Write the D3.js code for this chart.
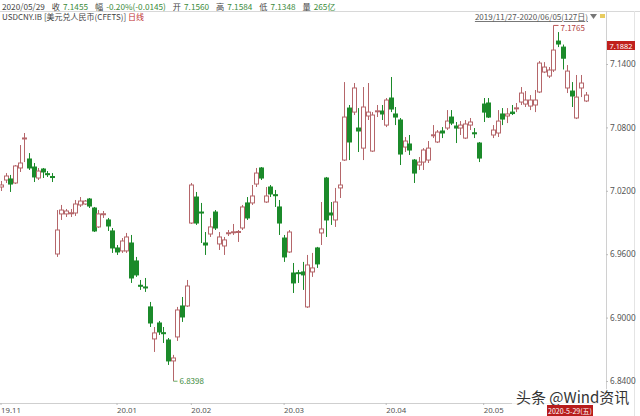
<!DOCTYPE html>
<html><head><meta charset="utf-8">
<script src="https://cdn.jsdelivr.net/npm/d3@7/dist/d3.min.js"></script>
<style>
html,body{margin:0;padding:0;background:#fff;}
svg{display:block;font-family:"Noto Sans CJK SC","Noto Sans",sans-serif;}
</style></head>
<body><svg id="c" width="640" height="416"></svg>
<script>
const dates = [
"2019-11-27","2019-11-28","2019-11-29",
"2019-12-02","2019-12-03","2019-12-04","2019-12-05","2019-12-06","2019-12-09","2019-12-10","2019-12-11","2019-12-12","2019-12-13",
"2019-12-16","2019-12-17","2019-12-18","2019-12-19","2019-12-20","2019-12-23","2019-12-24","2019-12-25","2019-12-26","2019-12-27","2019-12-30","2019-12-31",
"2020-01-02","2020-01-03","2020-01-06","2020-01-07","2020-01-08","2020-01-09","2020-01-10","2020-01-13","2020-01-14","2020-01-15","2020-01-16","2020-01-17",
"2020-01-20","2020-01-21","2020-01-22","2020-01-23",
"2020-02-03","2020-02-04","2020-02-05","2020-02-06","2020-02-07","2020-02-10","2020-02-11","2020-02-12","2020-02-13","2020-02-14",
"2020-02-17","2020-02-18","2020-02-19","2020-02-20","2020-02-21","2020-02-24","2020-02-25","2020-02-26","2020-02-27","2020-02-28",
"2020-03-02","2020-03-03","2020-03-04","2020-03-05","2020-03-06","2020-03-09","2020-03-10","2020-03-11","2020-03-12","2020-03-13",
"2020-03-16","2020-03-17","2020-03-18","2020-03-19","2020-03-20","2020-03-23","2020-03-24","2020-03-25","2020-03-26","2020-03-27","2020-03-30","2020-03-31",
"2020-04-01","2020-04-02","2020-04-03","2020-04-07","2020-04-08","2020-04-09","2020-04-10","2020-04-13","2020-04-14","2020-04-15","2020-04-16","2020-04-17",
"2020-04-20","2020-04-21","2020-04-22","2020-04-23","2020-04-24","2020-04-27","2020-04-28","2020-04-29","2020-04-30",
"2020-05-06","2020-05-07","2020-05-08","2020-05-11","2020-05-12","2020-05-13","2020-05-14","2020-05-15","2020-05-18","2020-05-19","2020-05-20","2020-05-21","2020-05-22",
"2020-05-25","2020-05-26","2020-05-27","2020-05-28","2020-05-29",
"2020-06-01","2020-06-02","2020-06-03","2020-06-04","2020-06-05"];

const openV = [7.0236,7.0302,7.0312,7.0274,7.0416,7.0695,7.0501,7.0425,7.0321,7.0406,7.0362,7.0335,
6.9602,6.9981,6.9981,6.9988,6.9990,7.0066,7.0075,7.0122,7.0037,6.9858,6.9978,6.9924,6.9820,6.9659,6.9631,6.9631,6.9706,6.9536,
6.9306,6.9290,6.9101,6.8798,6.8949,6.8857,6.8788,6.8590,6.8817,6.9110,6.9110,
6.9895,7.0141,6.9999,6.9706,6.9791,6.9999,6.9697,6.9678,6.9799,6.9808,6.9810,6.9848,7.0085,7.0085,7.0264,7.0416,7.0094,7.0236,7.0163,7.0047,
6.9753,6.9621,6.9422,6.9425,6.9432,6.9101,6.9432,6.9659,6.9801,7.0321,6.9990,6.9924,7.0227,7.0491,7.0983,7.0945,7.0794,7.0604,7.0908,7.0576,7.0952,7.0955,
7.0822,7.1078,7.0927,7.0870,7.0614,7.0643,7.0491,7.0444,7.0472,7.0491,7.0725,7.0662,7.0766,7.0794,7.0898,7.0813,7.0794,7.0699,7.0822,7.0749,
7.0652,7.1021,7.1031,7.0728,7.0747,7.0927,7.0908,7.0945,7.0980,7.1040,7.1021,7.1002,7.1012,7.1135,7.1324,7.1286,7.1343,7.1617,7.1560,
7.1173,7.1144,7.0889,7.1173,7.1050];
const highV = [7.0293,7.0368,7.0350,7.0444,7.0633,7.0747,7.0557,7.0463,7.0416,7.0416,7.0387,7.0368,
7.0018,7.0066,7.0028,7.0028,7.0113,7.0141,7.0113,7.0132,7.0047,7.0018,7.0009,6.9943,6.9848,6.9687,6.9753,6.9801,6.9782,6.9574,
6.9356,6.9375,6.9148,6.8911,6.8968,6.8911,6.8807,6.8647,6.9101,6.9195,6.9356,
7.0274,7.0189,7.0085,6.9810,6.9943,7.0018,6.9810,6.9763,6.9829,6.9886,6.9829,7.0066,7.0141,7.0255,7.0416,7.0425,7.0236,7.0255,7.0208,7.0113,
6.9782,6.9829,6.9517,6.9451,6.9527,6.9593,6.9612,6.9669,7.0094,7.0331,7.0094,7.0227,7.0472,7.1229,7.1012,7.1220,7.0983,7.1182,7.1220,7.0945,7.1012,7.1012,
7.1078,7.1277,7.0993,7.0889,7.0709,7.0728,7.0501,7.0520,7.0604,7.0671,7.0822,7.0775,7.0803,7.0964,7.0964,7.0851,7.0860,7.0870,7.0889,7.0794,
7.0662,7.1078,7.1078,7.0822,7.0964,7.0983,7.0983,7.1012,7.1031,7.1182,7.1144,7.1106,7.1154,7.1428,7.1418,7.1371,7.1765,7.1702,7.1584,
7.1390,7.1229,7.1296,7.1296,7.1135];
const lowV = [7.0198,7.0274,7.0189,7.0264,7.0378,7.0472,7.0397,7.0283,7.0302,7.0321,7.0331,7.0283,
6.9574,6.9924,6.9952,6.9952,6.9962,7.0047,7.0066,7.0037,6.9810,6.9848,6.9943,6.9820,6.9612,6.9593,6.9612,6.9612,6.9328,6.9385,
6.9262,6.9243,6.8911,6.8675,6.8836,6.8760,6.8552,6.8398,6.8779,6.8959,6.9101,
6.9886,6.9877,6.9706,6.9593,6.9763,6.9829,6.9640,6.9593,6.9772,6.9782,6.9716,6.9829,6.9924,7.0066,7.0236,7.0302,7.0085,7.0141,7.0047,6.9782,
6.9527,6.9612,6.9233,6.9328,6.9262,6.9091,6.9385,6.9470,6.9687,6.9763,6.9877,6.9858,7.0132,7.0482,7.0491,7.0917,7.0567,7.0491,7.0870,7.0567,7.0898,7.0870,
7.0803,7.0945,7.0822,7.0444,7.0567,7.0539,7.0274,7.0397,7.0397,7.0463,7.0699,7.0652,7.0699,7.0775,7.0822,7.0652,7.0728,7.0690,7.0775,7.0699,
7.0472,7.0851,7.0889,7.0699,7.0709,7.0822,7.0841,7.0917,7.0945,7.1012,7.0993,7.0964,7.0945,7.1125,7.1314,7.1267,7.1324,7.1560,7.1348,
7.1125,7.0993,7.0879,7.1087,7.1040];
const closeV = [7.0255,7.0340,7.0264,7.0435,7.0463,7.0700,7.0416,7.0331,7.0387,7.0378,7.0359,7.0331,
6.9829,7.0018,7.0009,6.9992,7.0075,7.0103,7.0103,7.0056,6.9820,6.9981,6.9983,6.9867,6.9659,6.9621,6.9725,6.9763,6.9375,6.9404,
6.9300,6.9285,6.8949,6.8855,6.8864,6.8852,6.8590,6.8618,6.9072,6.9006,6.9299,
7.0255,6.9895,6.9995,6.9687,6.9858,6.9848,6.9763,6.9735,6.9803,6.9812,6.9815,7.0047,6.9943,7.0151,7.0368,7.0321,7.0151,7.0170,7.0158,6.9895,
6.9574,6.9810,6.9328,6.9420,6.9404,6.9498,6.9470,6.9508,6.9839,6.9924,6.9971,7.0094,7.0255,7.0898,7.0662,7.1173,7.0766,7.0993,7.0945,7.0917,7.0957,7.0927,
7.1059,7.0974,7.0898,7.0548,7.0671,7.0586,7.0368,7.0472,7.0586,7.0604,7.0730,7.0756,7.0747,7.0860,7.0841,7.0794,7.0822,7.0832,7.0851,7.0745,
7.0510,7.0945,7.0898,7.0775,7.0860,7.0879,7.0927,7.0931,7.0985,7.1125,7.1059,7.1059,7.1059,7.1409,7.1371,7.1343,7.1532,7.1589,7.1455,
7.1333,7.1097,7.1087,7.1220,7.1106];

const yTicks = [6.84, 6.90, 6.96, 7.02, 7.08, 7.14];
const xTickLabels = ["19.11","20.01","20.02","20.03","20.04","20.05"];
const xTickDates  = ["2019-11-27","2020-01-02","2020-02-03","2020-03-02","2020-04-01","2020-05-06"];
const headerItems = [
  {k:"2020/05/29", v:""},{k:"收", v:"7.1455"},{k:"幅", v:"-0.20%(-0.0145)"},
  {k:"开", v:"7.1560"},{k:"高", v:"7.1584"},{k:"低", v:"7.1348"},{k:"量", v:"265亿"}];
const maxLabel = "7.1765", minLabel = "6.8398", tagLabel = "7.1882";

const svg = d3.select("#c");
const W = 640, H = 416;
const axisX = 606;

const data = dates.map((d,i)=>({d, o:openV[i], h:highV[i], l:lowV[i], c:closeV[i]}));

const x = d3.scaleBand().domain(dates).range([-0.6, 587.4]).paddingInner(0.3).paddingOuter(0);
const y = d3.scaleLinear().domain([6.84, 7.14]).range([381, 64]);
const cx = d => x(d) + x.bandwidth()/2;

const UP = "#b5666a", DOWN = "#1b8a2a";

// frame lines
svg.append("line").attr("x1",0).attr("x2",W).attr("y1",11.5).attr("y2",11.5).attr("stroke","#d8d8d8");
svg.append("line").attr("x1",axisX+0.5).attr("x2",axisX+0.5).attr("y1",11).attr("y2",403).attr("stroke","#d0d0d0");
svg.append("line").attr("x1",634.5).attr("x2",634.5).attr("y1",11).attr("y2",416).attr("stroke","#e4e4e4");

// header
const hdr = svg.append("text").attr("x",2).attr("y",9.5).attr("font-size",8.2).attr("fill","#444");
headerItems.forEach((it,i)=>{
  hdr.append("tspan").attr("dx", i? 7:0).attr("fill","#444").text(it.k);
  if(it.v) hdr.append("tspan").attr("dx",3).attr("fill","#3a8a3a").text(it.v);
});
const sub = svg.append("text").attr("x",2).attr("y",20).attr("font-size",8).attr("fill","#444");
sub.append("tspan").text("USDCNY.IB [美元兑人民币(CFETS)] ");
sub.append("tspan").attr("fill","#c03030").text("日线");

// range text
svg.append("text").attr("x",588).attr("y",20).attr("text-anchor","end").attr("font-size",8).attr("fill","#555")
  .attr("text-decoration","underline").text("2019/11/27-2020/06/05(127日)");
svg.append("path").attr("d","M590,14 L597,14 L593.5,19 Z").attr("fill","#777");
svg.append("rect").attr("x",600).attr("y",14).attr("width",5).attr("height",4).attr("fill","#e8cc60");

// y axis labels
const ya = svg.append("g").attr("transform",`translate(${axisX},0)`)
  .call(d3.axisRight(y).tickValues(yTicks).tickSize(2).tickFormat(d3.format(".4f")));
ya.select(".domain").remove();
ya.selectAll("line").attr("stroke","#bbb");
ya.selectAll("text").attr("x",4).attr("font-size",8.2).attr("fill","#555")
  .attr("font-family","'Noto Sans',sans-serif");

// x axis
const xa = svg.append("g").attr("transform","translate(0,403)")
  .call(d3.axisBottom(x).tickValues(xTickDates).tickSize(2)
    .tickFormat((d)=>xTickLabels[xTickDates.indexOf(d)]));
xa.select(".domain").attr("stroke","#cfcfcf").attr("d","M0,0.5H606");
xa.selectAll("line").attr("stroke","#bbb");
xa.selectAll("text").attr("y",4).attr("text-anchor","start").attr("font-size",7.8).attr("fill","#555")
  .attr("font-family","'Noto Sans',sans-serif");

const g = svg.append("g");

// candles
const bw = 3;
const cg = g.selectAll("g.k").data(data).join("g");
cg.append("line")
  .attr("x1",d=>Math.round(cx(d.d))+0.5).attr("x2",d=>Math.round(cx(d.d))+0.5)
  .attr("y1",d=>y(d.h)).attr("y2",d=>y(d.l))
  .attr("stroke",d=>d.c>=d.o?UP:DOWN).attr("stroke-width",1);
cg.append("rect")
  .attr("x",d=>Math.round(cx(d.d))-1.5)
  .attr("y",d=>y(Math.max(d.o,d.c)))
  .attr("width",bw+1)
  .attr("height",d=>Math.max(1,Math.abs(y(d.o)-y(d.c))))
  .attr("fill",d=>d.c>=d.o?"#fff":DOWN)
  .attr("stroke",d=>d.c>=d.o?UP:DOWN).attr("stroke-width",1);

// max/min annotations
const iMax = d3.maxIndex(data,d=>d.h), iMin = d3.minIndex(data,d=>d.l);
const mx = Math.round(cx(data[iMax].d))+0.5, my = y(data[iMax].h);
svg.append("path").attr("d",`M${mx},${my} L${mx+5},${my}`).attr("stroke","#b55").attr("fill","none");
svg.append("text").attr("x",mx+7).attr("y",my+6).attr("font-size",8).attr("fill","#b04040").text(maxLabel);
const nx = Math.round(cx(data[iMin].d))+0.5, ny = y(data[iMin].l);
svg.append("path").attr("d",`M${nx},${ny} L${nx+4},${ny}`).attr("stroke","#6a6").attr("fill","none");
svg.append("text").attr("x",nx+6).attr("y",ny+3).attr("font-size",8).attr("fill","#3a8a3a").text(minLabel);

// red price tag
svg.append("rect").attr("x",607).attr("y",41).attr("width",28).attr("height",9).attr("fill","#c0201c");
svg.append("text").attr("x",621).attr("y",48.5).attr("text-anchor","middle").attr("font-size",7.4).attr("fill","#fff")
  .attr("font-family","'Noto Sans',sans-serif").text(tagLabel);

// watermark
svg.append("rect").attr("x",512).attr("y",389).attr("width",122).attr("height",15).attr("fill","#fff").attr("opacity",0.75);
svg.append("text").attr("x",516).attr("y",403).attr("font-size",15).attr("fill","#333").text("头条 @Wind资讯");

// date box at bottom
svg.append("rect").attr("x",547).attr("y",405).attr("width",46).attr("height",11).attr("fill","#b81c1c");
svg.append("text").attr("x",570).attr("y",413.5).attr("text-anchor","middle").attr("font-size",7).attr("fill","#fff")
  .text("2020-5-29(五)");
</script></body></html>
